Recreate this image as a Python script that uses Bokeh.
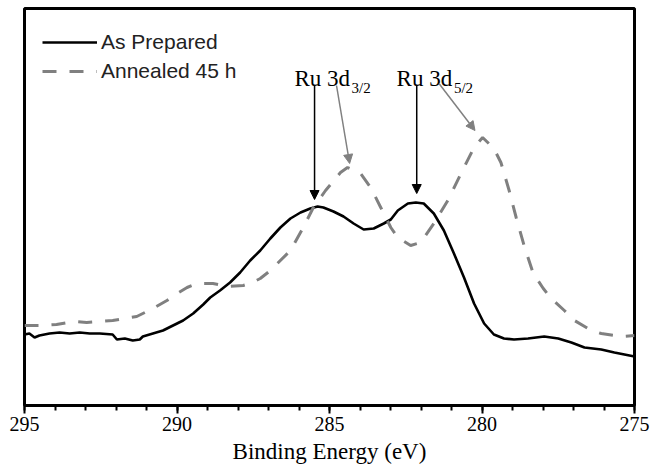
from bokeh.plotting import figure
from bokeh.models import Range1d, Legend, LegendItem, Arrow, NormalHead, SingleIntervalTicker
from bokeh.embed import file_html
from bokeh.resources import INLINE
from bokeh.core.properties import value

# Binding energy (eV) and intensity (a.u.) -- "As Prepared"
be_prep = [295.00, 294.84, 294.67, 294.51, 294.18, 293.85, 293.52, 293.19, 292.86, 292.53,
           292.11, 291.97, 291.71, 291.45, 291.22, 291.12, 290.79, 290.46, 290.13, 289.80,
           289.47, 289.14, 288.91, 288.59, 288.26, 287.93, 287.60, 287.27, 286.94, 286.61,
           286.28, 285.95, 285.63, 285.39, 285.20, 284.87, 284.54, 284.21, 283.88, 283.55,
           283.22, 282.99, 282.76, 282.43, 282.17, 281.91, 281.58, 281.25, 280.92, 280.59,
           280.26, 279.93, 279.61, 279.28, 278.95, 278.49, 277.96, 277.50, 277.07, 276.64,
           276.09, 275.66, 275.00]
int_prep = [71, 72, 68, 70, 72, 73, 72, 73, 72, 72,
            71, 66, 67, 65, 66, 69, 72, 75, 80, 85,
            92, 101, 108, 115, 123, 133, 145, 155, 167, 178,
            187, 193, 197, 199, 198, 194, 189, 182, 176, 177,
            182, 186, 195, 202, 203, 202, 192, 175, 152, 128,
            102, 82, 71, 67, 66, 67, 69, 67, 63, 58,
            56, 53, 49]

# "Annealed 45 h"
be_ann = [295.00, 294.51, 293.95, 293.36, 292.96, 292.53, 292.11, 291.71, 291.32, 290.79,
          290.33, 290.00, 289.67, 289.34, 288.82, 288.36, 287.83, 287.60, 287.27, 286.94,
          286.28, 285.86, 285.53, 285.13, 284.64, 284.41, 283.98, 283.65, 283.32, 282.99,
          282.76, 282.34, 282.01, 281.58, 281.12, 280.69, 280.26, 279.98, 279.61, 279.38,
          279.11, 278.88, 278.62, 278.32, 277.99, 277.73, 277.30, 276.97, 276.41, 276.09,
          275.43, 275.00]
int_ann = [80, 80, 81, 84, 83, 84, 85, 87, 89, 97,
           105, 112, 118, 122, 122, 119, 120, 122, 127, 135,
           155, 178, 198, 215, 233, 238, 232, 218, 198, 178,
           168, 160, 163, 182, 205, 232, 258, 268, 257, 243,
           215, 188, 160, 132, 117, 107, 95, 85, 75, 72,
           69, 70]

series_labels = ["As Prepared", "Annealed 45 h"]

# Peak annotations
peak_text_x = [286.15, 282.80]
peak_text_y = [327, 327]
peak_text = ["Ru 3d", "Ru 3d"]
sub_text_x = [284.28, 280.92]
sub_text_y = [318, 318]
sub_text = ["3/2", "5/2"]

# arrows: (x_start, y_start, x_end, y_end, colour)
arrows = [
    (285.49, 320, 285.49, 206, "black"),
    (284.77, 320, 284.34, 242, "#808080"),
    (282.14, 320, 282.14, 212, "black"),
    (281.41, 322, 280.23, 275, "#808080"),
]

p = figure(width=650, height=469, output_backend="svg", toolbar_location=None,
           x_range=Range1d(295, 275), y_range=Range1d(0, 397),
           min_border_left=24, min_border_right=16, min_border_top=8, min_border_bottom=64)
p.xgrid.visible = False
p.ygrid.visible = False
p.yaxis.visible = False
p.outline_line_color = "black"
p.outline_line_width = 3
p.outline_line_alpha = 1.0

ax = p.xaxis[0]
ax.ticker = SingleIntervalTicker(interval=5, num_minor_ticks=5)
ax.axis_line_width = 3
ax.major_tick_in = 0
ax.major_tick_out = 8
ax.minor_tick_in = 0
ax.minor_tick_out = 5
ax.major_tick_line_width = 2
ax.minor_tick_line_width = 2
ax.major_label_text_font = "Liberation Serif"
ax.major_label_text_font_size = "20px"
ax.major_label_text_color = "black"
ax.major_label_standoff = 3
ax.axis_label = "Binding Energy (eV)"
ax.axis_label_text_font = "Liberation Serif"
ax.axis_label_text_font_size = "23px"
ax.axis_label_text_font_style = "normal"
ax.axis_label_text_color = "black"
ax.axis_label_standoff = 5

r1 = p.line(be_prep, int_prep, line_color="black", line_width=2.6)
r2 = p.line(be_ann, int_ann, line_color="#808080", line_width=3, line_dash="14 13")

legend = Legend(items=[LegendItem(label=series_labels[0], renderers=[r1]),
                       LegendItem(label=series_labels[1], renderers=[r2])],
                location=(18, 322), glyph_width=55, glyph_height=20, label_standoff=4,
                spacing=5, padding=0, margin=0, border_line_alpha=0,
                background_fill_alpha=0, label_text_font="Liberation Sans",
                label_text_font_size="21px", label_text_color="#222222")
p.add_layout(legend)

for xs, ys, xe, ye, c in arrows:
    p.add_layout(Arrow(end=NormalHead(size=9, fill_color=c, line_color=c, line_width=1),
                       x_start=xs, y_start=ys, x_end=xe, y_end=ye,
                       line_color=c, line_width=1.5))

p.text(x=peak_text_x, y=peak_text_y, text=peak_text, text_font=value("Liberation Serif"),
       text_font_size="23px", text_baseline="alphabetic", text_align="left", text_color="black")
p.text(x=sub_text_x, y=sub_text_y, text=sub_text, text_font=value("Liberation Serif"),
       text_font_size="15px", text_baseline="alphabetic", text_align="left", text_color="black")

open("out.html", "w").write(file_html(p, INLINE))
